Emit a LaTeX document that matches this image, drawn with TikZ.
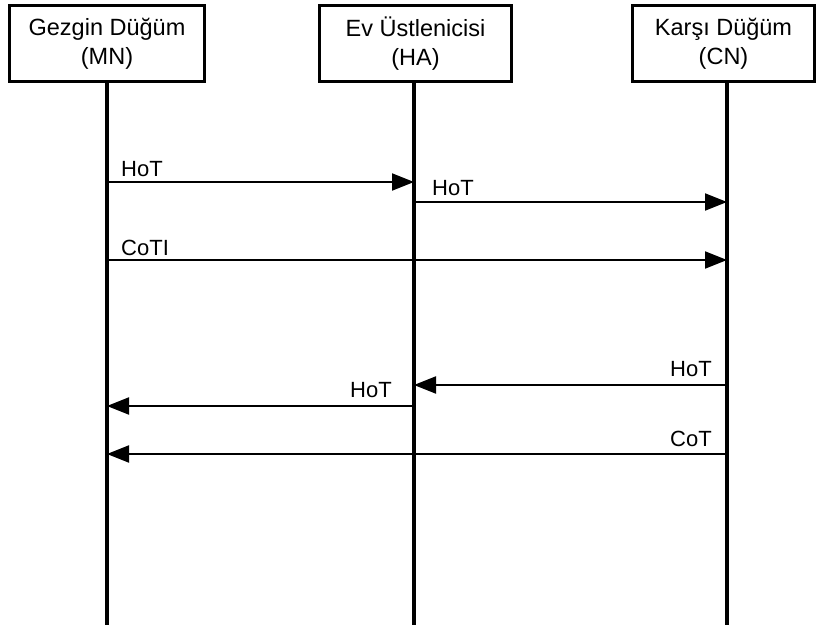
\documentclass[tikz,border=0pt]{standalone}
\usepackage{fontspec}
\setmainfont{Liberation Sans}
\usetikzlibrary{arrows.meta}
\begin{document}
\begin{tikzpicture}[x=1pt,y=-1pt,
  actor/.style={draw,line width=3pt,minimum height=76pt,inner sep=0pt,
    align=center,font=\fontsize{23.5}{29}\selectfont,anchor=north west},
  lifeline/.style={line width=3.2pt},
  msg/.style={line width=2.1pt,-{Triangle[length=22pt,width=17pt]}},
  lbl/.style={font=\fontsize{22}{24}\selectfont,inner sep=0pt}]
\useasboundingbox (0,0) rectangle (817,629);

% participants
\node[actor,minimum width=195pt] (mn) at (8,4) {Gezgin Düğüm\\(MN)};
\node[actor,minimum width=192pt] (ha) at (318,4) {Ev Üstlenicisi\\(HA)};
\node[actor,minimum width=182pt] (cn) at (631,4) {Karşı Düğüm\\(CN)};

% lifeline ends
\coordinate (mnE) at (107,625);
\coordinate (haE) at (414,625);
\coordinate (cnE) at (727,625);
\draw[lifeline] (107,80) -- (mnE);
\draw[lifeline] (414,80) -- (haE);
\draw[lifeline] (727,80) -- (cnE);

% message anchor points on the lifelines
\coordinate (mn1) at (107,182); \coordinate (ha1) at (414,182);
\coordinate (ha2) at (414,202); \coordinate (cn2) at (727,202);
\coordinate (mn3) at (107,260); \coordinate (cn3) at (727,260);
\coordinate (cn4) at (727,385); \coordinate (ha4) at (414,385);
\coordinate (ha5) at (414,406); \coordinate (mn5) at (107,406);
\coordinate (cn6) at (727,454); \coordinate (mn6) at (107,454);

% messages
\draw[msg] (mn1) -- (ha1);
\draw[msg] (ha2) -- (cn2);
\draw[msg] (mn3) -- (cn3);
\draw[msg] (cn4) -- (ha4);
\draw[msg] (ha5) -- (mn5);
\draw[msg] (cn6) -- (mn6);

% message labels
\node[lbl,anchor=base west] (l1) at (121,176) {HoT};
\node[lbl,anchor=base west] (l2) at (432,195) {HoT};
\node[lbl,anchor=base west] (l3) at (121,255) {CoTI};
\node[lbl,anchor=base east] (l4) at (712,376) {HoT};
\node[lbl,anchor=base east] (l5) at (392,397) {HoT};
\node[lbl,anchor=base east] (l6) at (712,446) {CoT};
\end{tikzpicture}
\end{document}
